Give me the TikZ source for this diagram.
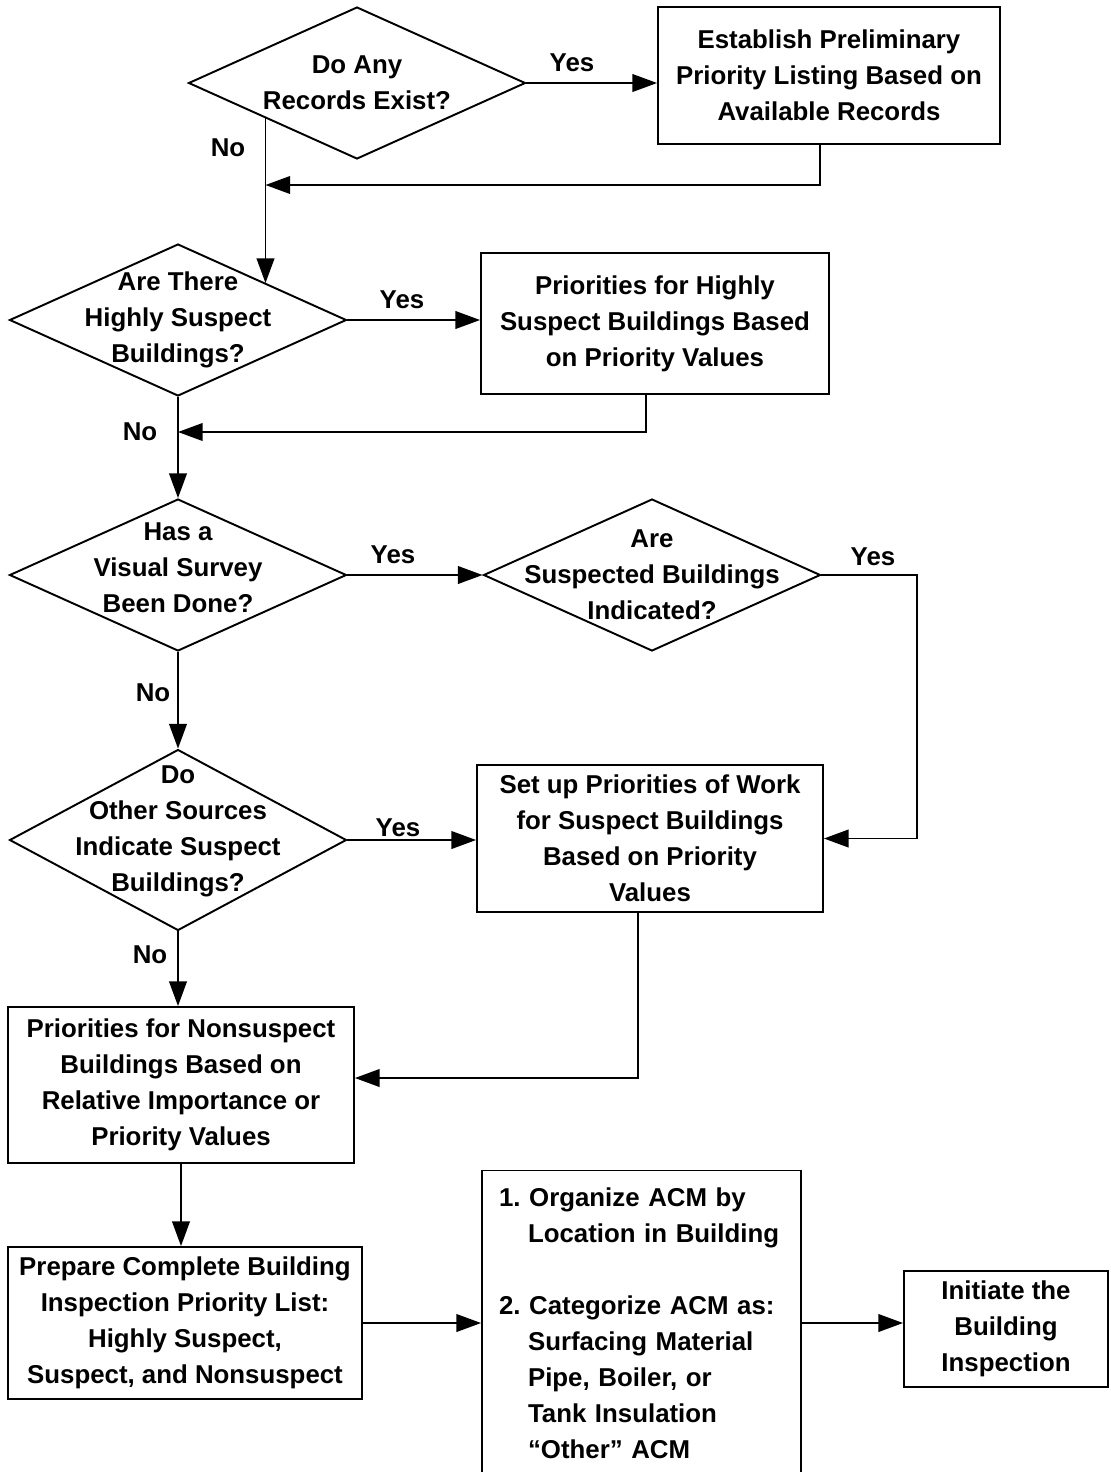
\documentclass[tikz,border=0pt]{standalone}
\usepackage{fontspec}
\setmainfont{Liberation Sans}
\usetikzlibrary{arrows.meta,calc,positioning,shapes.geometric}

\begin{document}
\begin{tikzpicture}[x=0.02cm,y=-0.02cm,line width=1.1pt,
    font=\bfseries\fontsize{14.7}{20.5}\selectfont\frenchspacing,
    dec/.style={draw,diamond,inner sep=0pt,minimum width=6.74cm,minimum height=3.04cm},
    dt/.style={align=center,inner sep=0pt},
    box/.style={draw,rectangle,align=center,inner sep=2pt},
    a/.style={-{Triangle[length=14pt,width=10pt]}}]
    \useasboundingbox (0,0) rectangle (1111,1472);

    % decisions
    \node[dec,label={[dt]center:Do Any\\Records Exist?}] (d1) at (357,83) {};
    \node[dec,label={[dt]center:Are There\\Highly Suspect\\Buildings?}] (d2) at (178,320) {};
    \node[dec,label={[dt,yshift=.14cm]center:Has a\\Visual Survey\\Been Done?}] (d3) at (178,575) {};
    \node[dec,label={[dt]center:Are\\Suspected Buildings\\Indicated?}] (d4) at (652,575) {};
    \node[dec,minimum height=3.62cm,
      label={[dt,yshift=.18cm]center:Do\\Other Sources\\Indicate Suspect\\Buildings?}] (d5) at (178,840) {};

    % boxes
    \node[box,minimum width=6.84cm,minimum height=2.74cm] (b1) at (829,75.5)
      {Establish Preliminary\\Priority Listing Based on\\Available Records};
    \node[box,minimum width=6.96cm,minimum height=2.82cm] (b2) at (655,323.5)
      {Priorities for Highly\\Suspect Buildings Based\\on Priority Values};
    \node[box,minimum width=6.92cm,minimum height=2.94cm] (b3) at (650,838.5)
      {Set up Priorities of Work\\for Suspect Buildings\\Based on Priority\\Values};
    \node[box,minimum width=6.92cm,minimum height=3.12cm] (b4) at (181,1085)
      {Priorities for Nonsuspect\\Buildings Based on\\Relative Importance or\\Priority Values};
    \node[box,minimum width=7.08cm,minimum height=3.04cm] (b5) at (185,1323)
      {Prepare Complete Building\\Inspection Priority List:\\Highly Suspect,\\Suspect, and Nonsuspect};
    \node[box,align=left,text width=5.7cm,minimum height=5.82cm,inner sep=.34cm] (b6) at (641.5,1323)
      {1. Organize ACM by\\\hspace*{.58cm}Location in Building\\[20.5pt]
       2. Categorize ACM as:\\\hspace*{.58cm}Surfacing Material\\\hspace*{.58cm}Pipe, Boiler, or\\
       \hspace*{.58cm}Tank Insulation\\\hspace*{.58cm}“Other” ACM};
    \node[box,minimum width=4.08cm,minimum height=2.32cm] (b7) at (1006,1329)
      {Initiate the\\Building\\Inspection};

    % connectors
    \coordinate (d1no) at ($(d1.west)!.46!(d1.south)$);
    \coordinate (d2in) at ($(d2.north)!.52!(d2.east)$);
    \coordinate (j1) at (d1no |- 0,185);
    \coordinate (j2) at (d2.south |- 0,432);
    \draw[a] (d1.east) -- (d1.east -| b1.west);
    \draw[a] (d1no) -- (d1no |- d2in);
    \draw[a] ([xshift=-.18cm]b1.south) |- (j1);
    \draw[a] (d2.east) -- (d2.east -| b2.west);
    \draw[a] (d2.south) -- (d3.north);
    \draw[a] ([xshift=-.18cm]b2.south) |- (j2);
    \draw[a] (d3.east) -- (d4.west);
    \draw[a] (d3.south) -- (d5.north);
    \draw[a] (d4.east) -- ++(96,0) |- (b3.east);
    \draw[a] (d5.east) -- (d5.east -| b3.west);
    \draw[a] ([xshift=-.24cm]b3.south) |- ([yshift=.14cm]b4.east);
    \draw[a] (d5.south) -- (d5.south |- b4.north);
    \draw[a] (b4.south) -- (b4.south |- b5.north);
    \draw[a] (b5.east) -- (b5.east -| b6.west);
    \draw[a] (b6.east) -- (b6.east -| b7.west);

    % branch labels
    \node (y1) at (572,63) {Yes};
    \node (n1) at (228,148) {No};
    \node (y2) at (402,300) {Yes};
    \node (n2) at (140,432) {No};
    \node (y3) at (393,555) {Yes};
    \node (y4) at (873,557) {Yes};
    \node (n3) at (153,693) {No};
    \node (y5) at (398,828) {Yes};
    \node (n4) at (150,955) {No};
\end{tikzpicture}
\end{document}
